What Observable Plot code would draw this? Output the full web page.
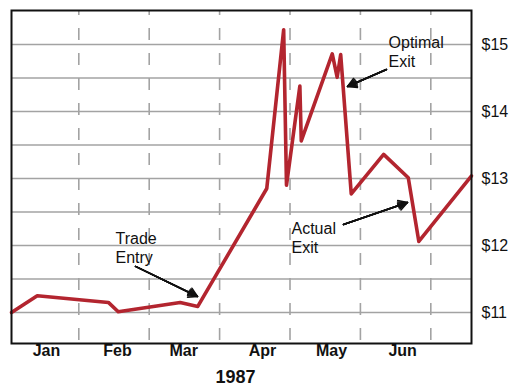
<!DOCTYPE html>
<html>
<head>
<meta charset="utf-8">
<script src="https://cdn.jsdelivr.net/npm/d3@7"></script>
<script src="https://cdn.jsdelivr.net/npm/@observablehq/plot@0.6"></script>
<style>
  body { margin: 0; background: #fff; }
  #chart svg { display: block; }
</style>
</head>
<body>
<div id="chart"></div>
<script>
// ---- data (x in months since Jan 1, 1987; y in dollars) ----
const monthPos = [0.044, 0.41, 1.42, 1.56, 2.44, 2.69, 3.67, 3.91, 3.95, 4.14, 4.16, 4.60, 4.67, 4.72, 4.87, 5.33, 5.68, 5.83, 6.578];
const price    = [11.00, 11.25, 11.15, 11.01, 11.15, 11.09, 12.85, 15.22, 12.90, 14.38, 13.56, 14.86, 14.51, 14.85, 12.77, 13.36, 13.01, 12.06, 13.04];

const monthNames   = ["Jan", "Feb", "Mar", "Apr", "May", "Jun"];
const monthLabelAt = [0.54, 1.55, 2.49, 3.61, 4.59, 5.60];
const monthStarts  = [1, 2, 3, 4, 5, 6];
const priceTicks   = [11, 12, 13, 14, 15];
const gridLevels   = [11, 11.5, 12, 12.5, 13, 13.5, 14, 14.5, 15];
const yearLabel    = "1987";
const yearAt       = [3.226];

const noteText = ["Trade\nEntry", "Optimal\nExit", "Actual\nExit"];
const noteX    = [1.521, 5.40, 4.021];
const noteY    = [12.224, 15.149, 12.38];

const arrowX1 = [1.805, 5.37, 4.760];
const arrowY1 = [11.687, 14.627, 12.313];
const arrowX2 = [2.686, 4.817, 5.669];
const arrowY2 = [11.239, 14.373, 12.642];

// ---- tables built from the arrays ----
const series = monthPos.map((m, i) => ({m, p: price[i]}));
const notes = noteText.map((t, i) => ({t, x: noteX[i], y: noteY[i]}));
const arrows = arrowX1.map((x1, i) => ({x1, y1: arrowY1[i], x2: arrowX2[i], y2: arrowY2[i]}));
const monthLabels = monthNames.map((n, i) => ({n, x: monthLabelAt[i]}));

const FONT = "'Liberation Sans', Arial, Helvetica, sans-serif";
const grid = "#a3a3a3";

const arrowMarks = [60, 44, 30, 16, 4].map(a =>
  Plot.arrow(arrows, {x1: "x1", y1: "y1", x2: "x2", y2: "y2",
    stroke: "#111", strokeWidth: 1.5, headLength: 10, headAngle: a, bend: 0})
);

const chart = Plot.plot({
  width: 511,
  height: 392,
  marginLeft: 11,
  marginRight: 40,
  marginTop: 10,
  marginBottom: 49,
  style: {fontFamily: FONT, fontSize: "16px", color: "#111", background: "#fff"},
  x: {domain: [0.044, 6.578], axis: null},
  y: {domain: [10.537, 15.507], axis: "right", ticks: priceTicks,
      tickFormat: d => "$" + d, tickSize: 0, tickPadding: 10, label: null},
  marks: [
    Plot.ruleY(gridLevels, {stroke: grid, strokeWidth: 1.6}),
    Plot.ruleX(monthStarts, {stroke: grid, strokeWidth: 1.6, strokeDasharray: "12,13", strokeDashoffset: 7}),
    Plot.line(series, {x: "m", y: "p", stroke: "#b3252f", strokeWidth: 3.6, strokeLinejoin: "round"}),
    ...arrowMarks,
    Plot.text(notes, {x: "x", y: "y", text: "t", textAnchor: "start", lineAnchor: "top",
      lineHeight: 1.2, fontSize: 16, fill: "#111"}),
    Plot.text(monthLabels, {x: "x", text: "n", frameAnchor: "bottom", dy: 12.6,
      fontWeight: "bold", fontSize: 16, fill: "#111"}),
    Plot.text([yearLabel], {x: yearAt, text: d => d, frameAnchor: "bottom", dy: 39,
      fontWeight: "bold", fontSize: 18, fill: "#111"}),
    Plot.frame({stroke: "#111", strokeWidth: 2})
  ]
});
document.getElementById("chart").appendChild(chart);
</script>
</body>
</html>
